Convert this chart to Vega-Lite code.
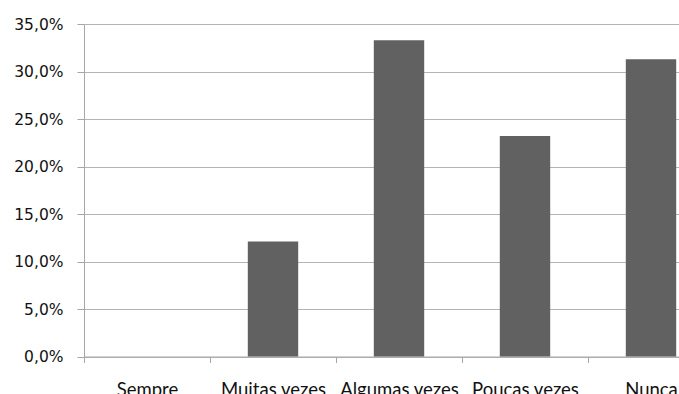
{
  "$schema": "https://vega.github.io/schema/vega-lite/v6.json",
  "autosize": {"type": "none"},
  "padding": {"left": 84, "top": 24, "right": 0, "bottom": 38},
  "width": 630,
  "height": 332.5,
  "background": "white",
  "config": {
    "view": {"stroke": null},
    "axis": {"labelColor": "#111111", "domainColor": "#a6a6a6", "tickColor": "#a6a6a6", "gridColor": "#b4b4b4"}
  },
  "data": {
    "values": [
      {"categoria": "Sempre", "percentual": 0.0},
      {"categoria": "Muitas vezes", "percentual": 12.1},
      {"categoria": "Algumas vezes", "percentual": 33.3},
      {"categoria": "Poucas vezes", "percentual": 23.2},
      {"categoria": "Nunca", "percentual": 31.3}
    ]
  },
  "mark": {"type": "bar", "color": "#616161", "width": {"band": 0.4}},
  "encoding": {
    "x": {
      "field": "categoria",
      "type": "nominal",
      "sort": null,
      "scale": {"paddingInner": 0, "paddingOuter": 0},
      "axis": {
        "title": null,
        "labelAngle": 0,
        "tickBand": "extent",
        "tickSize": 6,
        "labelPadding": 18,
        "labelFont": "Lato",
        "labelFontSize": 18.5,
        "labelOverlap": false,
        "grid": false
      }
    },
    "y": {
      "field": "percentual",
      "type": "quantitative",
      "scale": {"domain": [0, 35], "nice": false},
      "axis": {
        "title": null,
        "values": [0, 5, 10, 15, 20, 25, 30, 35],
        "labelExpr": "replace(format(datum.value, '.1f'), '.', ',') + '%'",
        "tickSize": 7,
        "labelPadding": 14,
        "labelFont": "DejaVu Sans",
        "labelFontSize": 15.5,
        "grid": true
      }
    }
  }
}
